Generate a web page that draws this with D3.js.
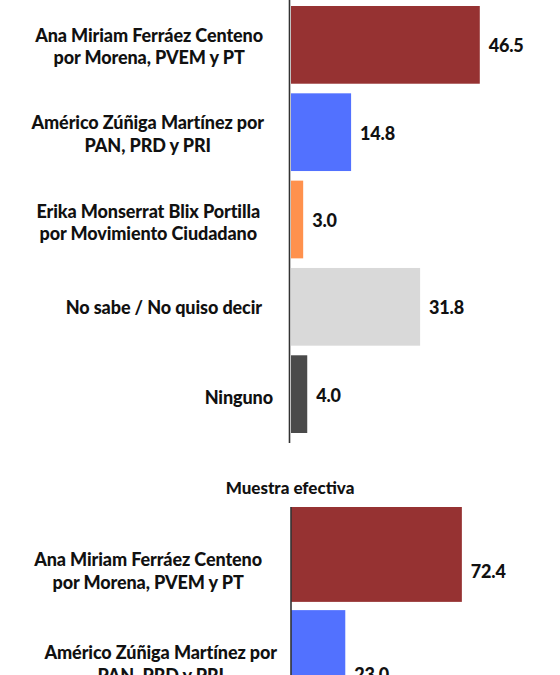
<!DOCTYPE html>
<html>
<head>
<meta charset="utf-8">
<script src="https://cdn.jsdelivr.net/npm/d3@7"></script>
<style>
  html, body { margin: 0; padding: 0; background: #ffffff; }
  svg { display: block; }
  text { font-family: Lato, "Open Sans", sans-serif; fill: #111; }
</style>
</head>
<body>
<svg id="chart" width="560" height="675"></svg>
<script>
// ---- data ----
const topCategories = [
  ["Ana Miriam Ferráez Centeno", "por Morena, PVEM y PT"],
  ["Américo Zúñiga Martínez por", "PAN, PRD y PRI"],
  ["Erika Monserrat Blix Portilla", "por Movimiento Ciudadano"],
  ["No sabe / No quiso decir"],
  ["Ninguno"]
];
const topValues = [46.5, 14.8, 3.0, 31.8, 4.0];
const topColors = ["#963232", "#5271FF", "#FF914D", "#D9D9D9", "#4A4A4A"];

const bottomTitle = "Muestra efectiva";
const bottomCategories = [
  ["Ana Miriam Ferráez Centeno", "por Morena, PVEM y PT"],
  ["Américo Zúñiga Martínez por", "PAN, PRD y PRI"]
];
const bottomValues = [72.4, 23.0];
const bottomColors = ["#963232", "#5271FF"];

// ---- drawing ----
const svg = d3.select("#chart");
const fmt = d3.format(".1f");

function drawChart(opts) {
  const g = svg.append("g");
  const keys = opts.categories.map((c, i) => i);
  const y = d3.scaleBand().domain(keys).range(opts.yRange).paddingInner(opts.padInner).paddingOuter(0);
  const x = d3.scaleLinear().domain([0, 100]).range([opts.x0, opts.x0 + opts.pxPerUnit * 100]);

  // bars
  g.selectAll("rect.bar").data(opts.values).join("rect")
    .attr("class", "bar")
    .attr("x", x(0))
    .attr("y", (d, i) => y(i))
    .attr("width", d => x(d) - x(0))
    .attr("height", y.bandwidth())
    .attr("fill", (d, i) => opts.colors[i]);

  // axis line
  g.append("line")
    .attr("x1", opts.axisX).attr("x2", opts.axisX)
    .attr("y1", opts.axisY[0]).attr("y2", opts.axisY[1])
    .attr("stroke", "#333").attr("stroke-width", 1.6);

  // value labels
  g.selectAll("text.val").data(opts.values).join("text")
    .attr("class", "val")
    .attr("x", d => x(d) + 9)
    .attr("y", (d, i) => y(i) + y.bandwidth() / 2 + opts.valueShift + 6.5)
    .attr("font-size", 18)
    .attr("font-weight", 900)
    .attr("letter-spacing", -0.2)
    .text(d => fmt(d));

  // category labels
  opts.categories.forEach((lines, i) => {
    const cy = y(i) + y.bandwidth() / 2 + opts.labelShift[i];
    const grp = g.append("g");
    const n = lines.length;
    const ts = lines.map((ln, k) => grp.append("text")
      .attr("text-anchor", "middle")
      .attr("font-size", 18)
      .attr("font-weight", 900)
      .attr("letter-spacing", -0.1)
      .attr("y", cy + (k - (n - 1) / 2) * 22.5 + 6.5)
      .text(ln));
    const maxW = d3.max(ts, t => t.node().getComputedTextLength());
    const cx = opts.labelRight[i] - maxW / 2;
    ts.forEach(t => t.attr("x", cx));
  });
  return g;
}

drawChart({
  categories: topCategories, values: topValues, colors: topColors,
  yRange: [6, 433], padInner: 0.11, x0: 291, pxPerUnit: 4.06,
  axisX: 289.5, axisY: [0, 443], valueShift: 1,
  labelShift: [1.5, 2, 3, 1, 3], labelRight: [263, 264, 260, 262, 273]
});

svg.append("text")
  .attr("x", 290).attr("y", 494)
  .attr("text-anchor", "middle")
  .attr("font-size", 17).attr("font-weight", 900)
  .attr("letter-spacing", 0)
  .text(bottomTitle);

drawChart({
  categories: bottomCategories, values: bottomValues, colors: bottomColors,
  yRange: [507, 705], padInner: 0.08, x0: 291, pxPerUnit: 2.36,
  axisX: 291, axisY: [507, 675], valueShift: 17,
  labelShift: [16.5, 6.5], labelRight: [262, 277]
});
</script>
</body>
</html>
